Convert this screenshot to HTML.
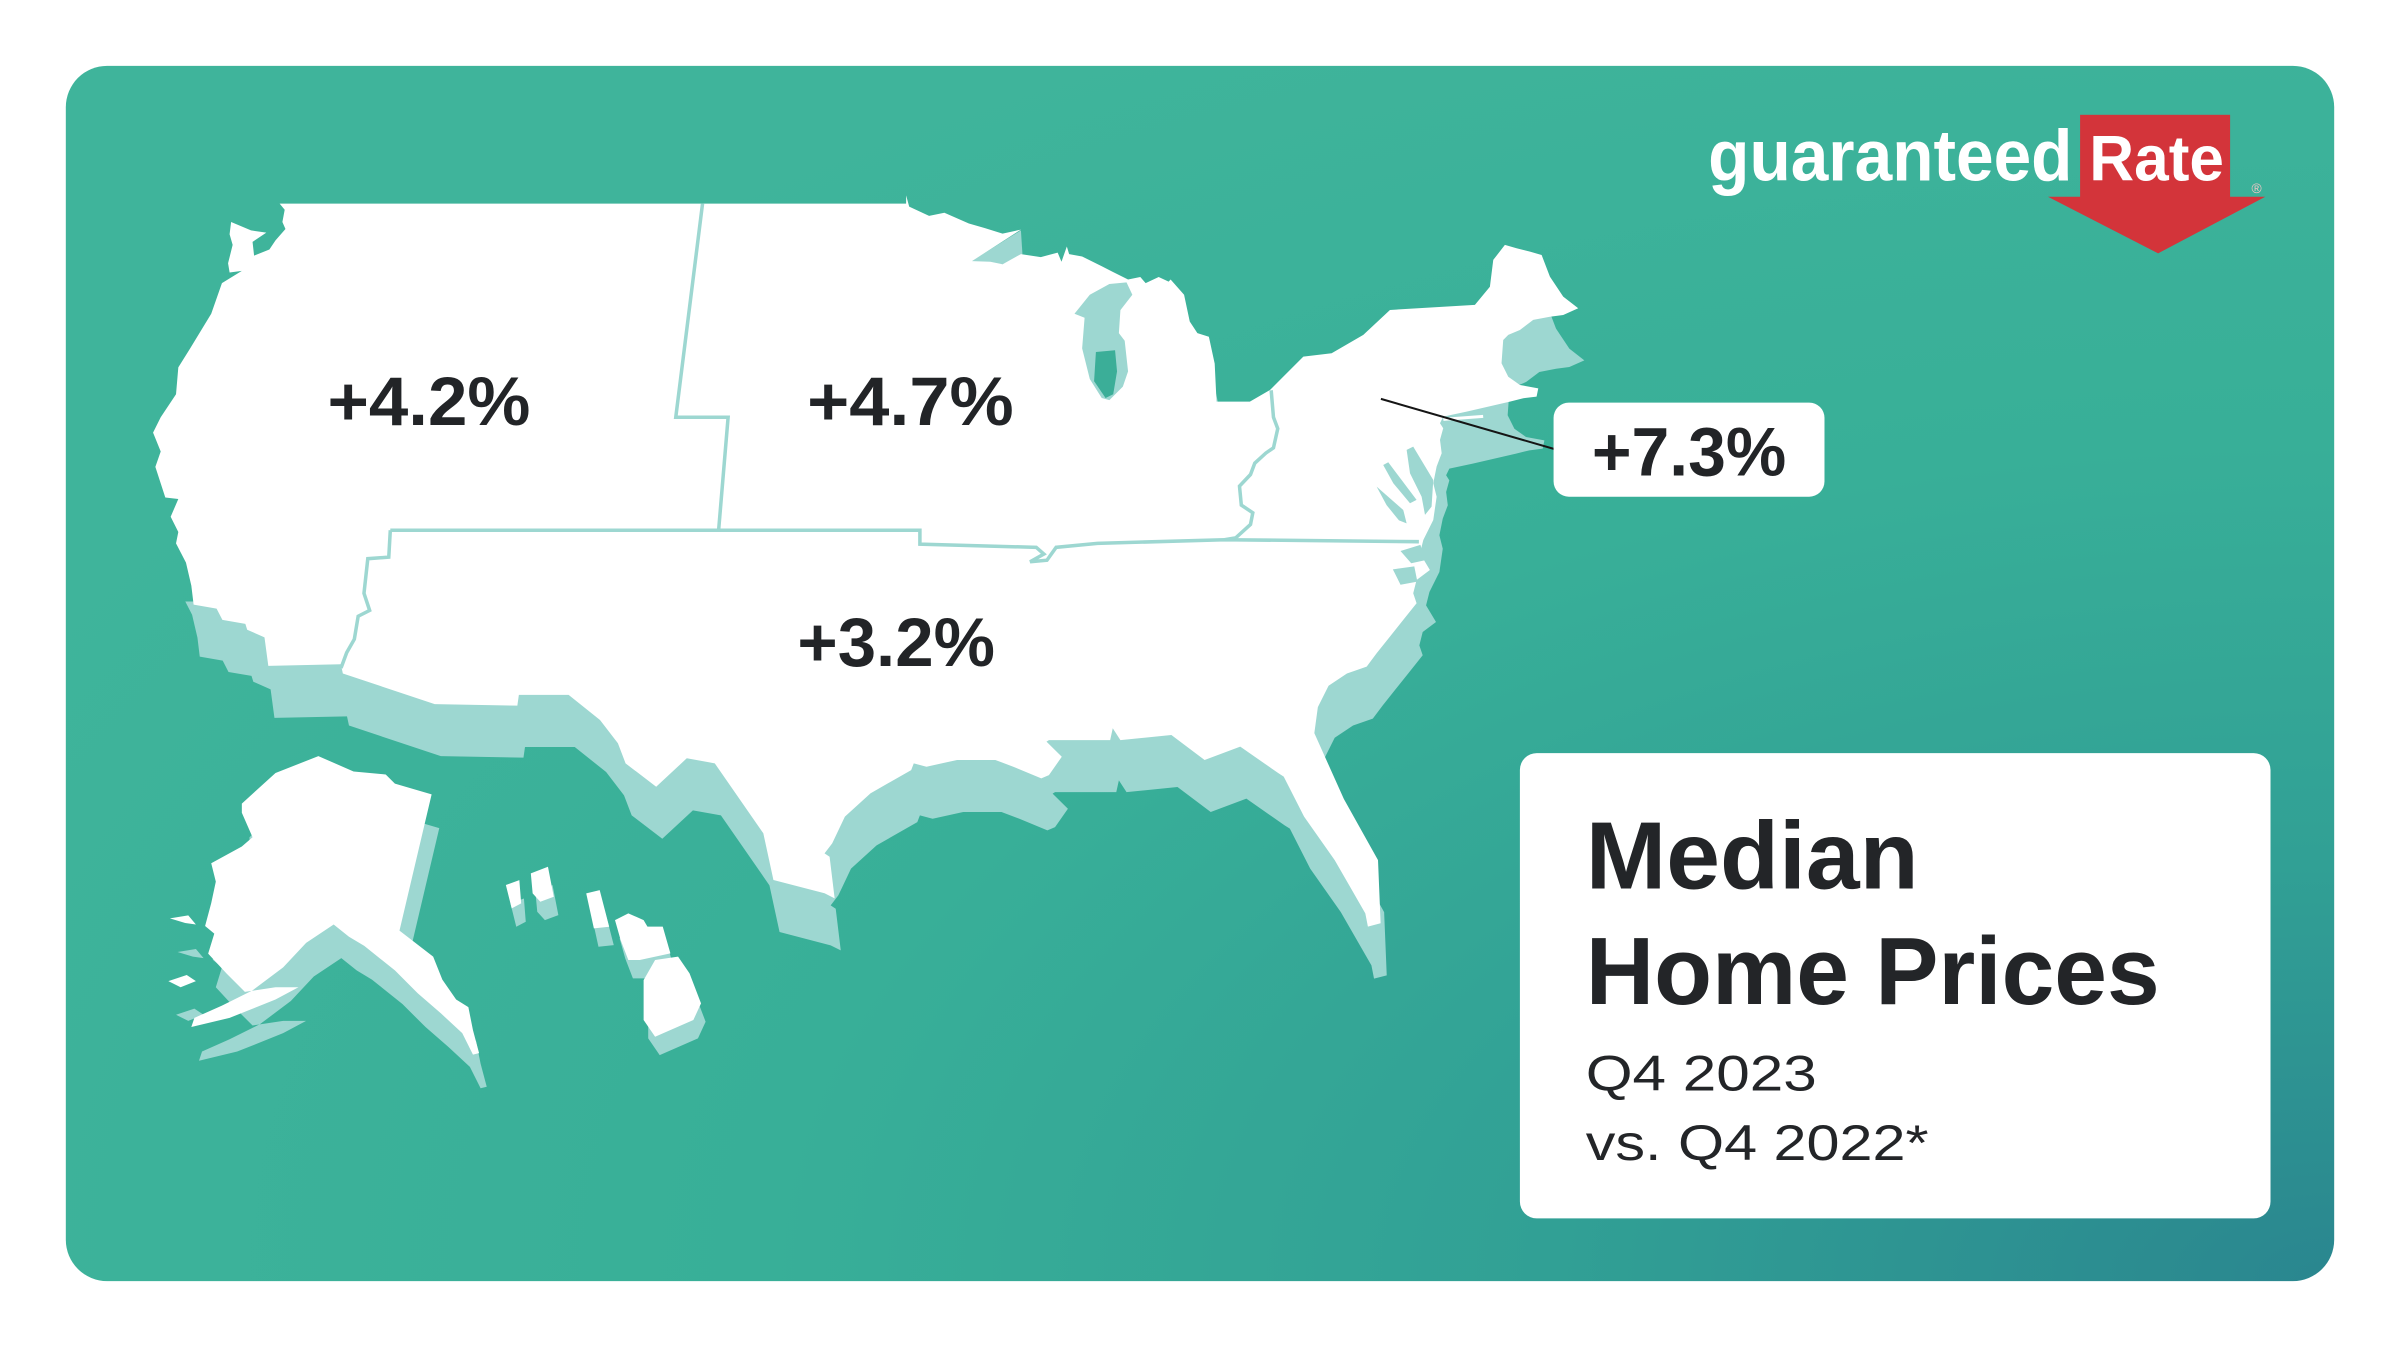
<!DOCTYPE html>
<html>
<head>
<meta charset="utf-8">
<style>
html,body{margin:0;padding:0;background:#ffffff;}
svg{display:block;}
text{font-family:"Liberation Sans",Arial,sans-serif;}
</style>
</head>
<body>
<svg width="2400" height="1349" viewBox="0 0 1568 881.33" xmlns="http://www.w3.org/2000/svg">
<defs>
<radialGradient id="bg" cx="1" cy="1" r="1.15" gradientUnits="objectBoundingBox">
<stop offset="0" stop-color="#2a868f"/>
<stop offset="0.3" stop-color="#31a095"/>
<stop offset="0.6" stop-color="#38af98"/>
<stop offset="1" stop-color="#3fb49b"/>
</radialGradient>
<clipPath id="westclip">
<path clip-rule="evenodd" d="M0 0H1568V882H0Z M0 120 L160 120 L155 185 L148 205 L134 228 L127 240 L125 258 L115 272 L110 283 L114 295 L111 305 L118 325 L122 338 L126 348 L125 355 L131 368 L135 383 L136 393 L0 393 Z"/>
</clipPath>
<path id="us" d="M182.7,133 L592,133 L592,127.6 L594,135 L607,141 L617,139 L633,146 L643.5,149 L655,152.6 L667,150 L635,170.6 L647,171 L655,172.6 L667,166 L680,168 L691,165 L693.5,171 L697,161 L698.5,166 L707,167.6 L720,174 L727,177.6 L737,182.6 L745,181 L748.5,185 L757,181 L763.5,184 L764.8,182.6 L773.6,192.6 L777.3,210 L782.3,217.6 L789.8,220 L793.6,237.6 L794.8,262.4 L816.6,262.4 L829.7,254.8 L851.5,233 L870,230.8 L890.7,218.8 L908.1,202.5 L963.6,199.2 L973.4,187.3 L975.6,169.8 L983.2,160 L990.8,162.2 L999.6,164.4 L1007.2,166.6 L1012.6,180.7 L1021.3,193.8 L1031.1,201.4 L1021.3,205.8 L1012.6,206.9 L1001.7,209 L993,215.6 L985.4,218.8 L982.1,222.1 L981,237.3 L985.4,246.1 L993,251.5 L1005,253.7 L1003.9,259.1 L995.2,260.2 L986.5,262.4 L958.2,268.9 L942.9,272.2 L940.8,276.5 L942.9,279.8 L940.8,287.4 L941.9,296.1 L938.6,304.8 L936.4,315.7 L938.6,324.5 L936.4,339.7 L929.9,352.8 L927.7,361.5 L934.2,372.4 L925.5,378.9 L923.3,387.6 L925.5,394.1 L916.8,405 L908.1,415.9 L899.4,426.8 L892.9,435.5 L880,440 L868,448 L861,462 L858.7,479 L878,522 L900.3,561.9 L902,603.2 L893.7,605.4 L892,596.7 L872,561.9 L852,533.5 L838.7,507.4 L835.3,505.2 L810.3,487.8 L787,496.5 L765.3,480.2 L732,483.5 L727,475.8 L725.3,483.5 L685.3,483.5 L683.7,484.5 L693.7,494.4 L685.3,506.4 L680.3,508.5 L662,500.9 L650.3,496.5 L625.3,496.5 L605.3,500.9 L597,498.7 L595.3,503.1 L568.7,518.3 L552,533.5 L543.7,551 L538.7,557.5 L542,559.7 L545.3,586.9 L538.7,583.6 L505.3,574.9 L498.7,544.4 L467,498.7 L448.7,495.4 L428.7,514 L408.7,498.7 L403.7,485.6 L392,470.4 L371.5,454 L339,454 L338,461 L284,460 L224,440 L222.7,434 L175.3,435 L172.8,416.4 L161.5,411.4 L160.3,407.6 L145.3,405 L141.5,397.6 L126.5,395 L125,382.6 L121.5,367.6 L115,355 L116.5,347.6 L111.5,337.6 L116.5,326 L108,325 L101.5,305 L105,295 L100,282.6 L105,272.6 L115,257.6 L116.5,240 L124,228 L138,205 L145,185 L158,177 L150,178 L149,172 L152,160 L150,153 L151,145 L164,150.5 L174,152 L165,158 L166,167 L176,163 L180,157 L186.5,149.6 L184.5,145 L186,137 Z"/>
<path id="ak" d="M158,525 L180,505 L208,494 L231,504 L252,506 L258,512 L282,519 L261,608 L283,625 L289,640 L298,653 L306,658 L309,673 L313,688 L309,689 L302,675 L288,662 L273,649 L258,634 L238,618 L228,612 L218,604 L200,616 L185,632 L165,647 L145,657 L127,665 L125,671 L150,665 L180,653 L195,645 L180,645 L160,648 L148,636 L136,623 L140,610 L134,605 L138,590 L141,576 L138,564 L158,553 L165,547 L158,531 Z M111,600 L123,598 L128,604 L121,603 Z M110,641 L122,637 L128,641 L118,645 Z"/>
<path id="hi" d="M330.5,578.2 L339.3,575 L340.5,590.2 L334.3,593.5 Z M346.8,570.6 L358,566.3 L361.8,585.9 L353,589.1 L348,583.7 Z M383,583.7 L391.8,581.5 L398,605.5 L388,606.5 Z M401.8,601.1 L410.5,596.7 L420.5,601.1 L423,605.4 L433,605.4 L438,622.9 L418,627.2 L410.5,627.2 L405.5,614.2 Z M420.5,640.3 L428,627.2 L443,625 L450.5,635.9 L458,655.5 L453,666.4 L428,677.3 L420.5,666.4 Z"/>
</defs>

<rect x="43" y="43" width="1482" height="794" rx="27" fill="url(#bg)"/>

<!-- shadows -->
<g fill="#9dd7d1">
<g clip-path="url(#westclip)"><use href="#us" transform="translate(4,34)"/></g>
<use href="#ak" transform="translate(5,22)"/>
<use href="#hi" transform="translate(3,12)"/>
<polygon points="634,171 667,150.5 668,166 655,172.6 645,172"/>
</g>

<!-- white map -->
<g fill="#ffffff">
<use href="#us"/>
<use href="#ak"/>
<use href="#hi"/>
</g>

<!-- Lake Michigan -->
<polygon points="702,205 712,192.6 724.8,185.5 736,184.5 739.8,192.6 732,202.6 731,217.6 734.8,222.6 737,242.6 733.6,252.6 724.8,261.4 719.8,260 712,247.6 707,227.6 708.6,207.6" fill="#9dd7d1"/>
<polygon points="716,230 728.5,228.8 729.8,242.6 727.3,257.6 722.3,260 714.8,249" fill="#3bae98"/>

<!-- Chesapeake and bays -->
<g fill="#9dd7d1">
<polygon points="919,293.9 923.3,291.8 936.4,313.6 935.3,331 931,336.4 928.8,324.5 921.2,309.2"/>
<polygon points="903.7,303.8 907,302 925.5,326.6 921.2,328.8 910.3,315.7"/>
<polygon points="899.4,317.9 916.8,333.2 919,341.9 914,340 905.9,330"/>
<polygon points="915,360 928,356 931,366 922,368"/>
<polygon points="910,372 924,370 926,380 915,382"/>
</g>
<polyline points="943,274 969,272" fill="none" stroke="#ffffff" stroke-width="2"/>

<!-- region borders -->
<g fill="none" stroke="#9dd7d1" stroke-width="2.3" stroke-linejoin="miter">
<polyline points="459,133 441.5,272.6 475.7,272.6 469.5,346.4"/>
<polyline points="255,346.4 601,346.4 601,355.5 677,357.6 682,362 673,367 684,366 690,357.6 717,355 800,352.6 927,353.9"/>
<polyline points="255,346.4 254,364 240.3,365 237.8,387.6 241.5,398.8 234,402.6 231.5,417.6 226.5,426.4 222.8,436.4"/>
<polyline points="800,352.6 807.3,351.4 817,342.6 818.5,335 811,330 809.8,317.6 817,310 819.8,302.6 827,296 832,292.6 834.8,280 832,272.6 830.5,255"/>
</g>

<!-- map labels -->
<g fill="#222427" font-weight="bold" font-size="45">
<text x="214" y="277.6" textLength="132.5" lengthAdjust="spacingAndGlyphs">+4.2%</text>
<text x="527.3" y="277.6" textLength="135" lengthAdjust="spacingAndGlyphs">+4.7%</text>
<text x="521" y="435" textLength="129" lengthAdjust="spacingAndGlyphs">+3.2%</text>
</g>

<line x1="902.2" y1="260.6" x2="1016" y2="293.5" stroke="#151515" stroke-width="1.3"/>
<rect x="1015" y="263" width="177" height="61.5" rx="10" fill="#ffffff"/>
<text x="1040" y="310.5" fill="#222427" font-weight="bold" font-size="45" textLength="127" lengthAdjust="spacingAndGlyphs">+7.3%</text>

<!-- info box -->
<rect x="993" y="492" width="490.4" height="304" rx="11" fill="#ffffff"/>
<g fill="#232528">
<text x="1036" y="580.6" font-weight="bold" font-size="62.4" textLength="217.5" lengthAdjust="spacingAndGlyphs">Median</text>
<text x="1036" y="656" font-weight="bold" font-size="62.4" textLength="375" lengthAdjust="spacingAndGlyphs">Home Prices</text>
<text x="1036" y="712.5" font-size="33" textLength="151" lengthAdjust="spacingAndGlyphs">Q4 2023</text>
<text x="1036" y="758" font-size="33" textLength="224" lengthAdjust="spacingAndGlyphs">vs. Q4 2022*</text>
</g>

<!-- logo -->
<rect x="1359" y="75" width="98" height="55" fill="#d3343a"/>
<polygon points="1338,128.5 1480,128.5 1410,165.5" fill="#d3343a"/>
<text x="1116" y="118" fill="#ffffff" font-weight="bold" font-size="47" textLength="238" lengthAdjust="spacingAndGlyphs">guaranteed</text>
<text x="1365" y="118" fill="#ffffff" font-weight="bold" font-size="42" textLength="88" lengthAdjust="spacingAndGlyphs">Rate</text>
<text x="1471" y="126" fill="#f2c6c6" font-size="9">®</text>
</svg>
</body>
</html>
